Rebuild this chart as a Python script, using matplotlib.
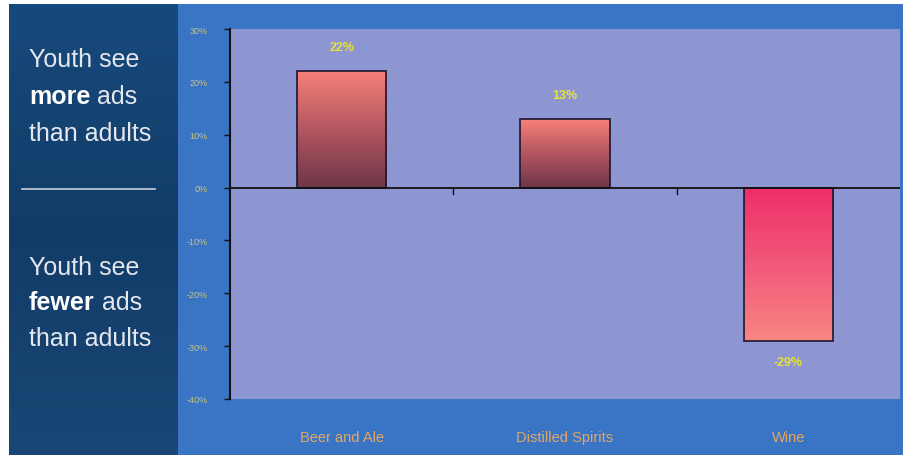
import numpy as np
import matplotlib
matplotlib.use("Agg")
import matplotlib.pyplot as plt
from matplotlib.patches import Rectangle
from matplotlib.colors import LinearSegmentedColormap

plt.rcParams['font.family'] = ['Liberation Sans', 'DejaVu Sans']

categories = ["Beer and Ale", "Distilled Spirits", "Wine"]
values = [22, 13, -29]
value_labels = ["22%", "13%", "-29%"]
yticks = [30, 20, 10, 0, -10, -20, -30, -40]
ytick_labels = ["30%", "20%", "10%", "0%", "-10%", "-20%", "-30%", "-40%"]

W, H = 912, 456
fig = plt.figure(figsize=(W / 100, H / 100), dpi=100)
fig.patch.set_facecolor("white")


def fx(px):
    return px / W


def fy(py):
    return 1 - py / H


# blue chart background
fig.patches.append(Rectangle((fx(178), fy(456)), fx(903 - 178), 451 / H,
                             transform=fig.transFigure, facecolor="#3a74c4",
                             edgecolor="none", zorder=-5))

# dark left panel with gradient
panel = fig.add_axes([fx(9), fy(456), fx(178 - 9), 451 / H])
panel.set_axis_off()
grad = np.linspace(0, 1, 256).reshape(-1, 1)
panel_cmap = LinearSegmentedColormap.from_list("panel", ["#174a7c", "#123c68", "#1a4776"])
panel.imshow(grad, aspect="auto", cmap=panel_cmap, extent=[0, 1, 0, 1])
panel.set_xlim(0, 1)
panel.set_ylim(0, 1)

# plot area
ax = fig.add_axes([fx(230), fy(400), fx(900 - 230), (400 - 30) / H])
ax.set_facecolor("#8e96d2")
x = np.arange(len(categories))

bar_w = 0.4
up_cmap = LinearSegmentedColormap.from_list("up", ["#6e3648", "#b25660", "#f78078"])
down_cmap = LinearSegmentedColormap.from_list("down", ["#f98682", "#f2587a", "#ee2e68"])
bars = ax.bar(x, values, width=bar_w, color="none", edgecolor="#1a1530",
              linewidth=1.2, zorder=3)
for b, v in zip(bars, values):
    x0 = b.get_x()
    x1 = x0 + b.get_width()
    cmap = up_cmap if v > 0 else down_cmap
    ax.imshow(grad, aspect="auto", cmap=cmap, origin="lower",
              extent=[x0, x1, min(0, v), max(0, v)], zorder=2)
ax.set_xlim(-0.5, len(categories) - 0.5)
ax.set_ylim(-40, 30)

for xi, v, lab in zip(x, values, value_labels):
    off = 4.6 if v > 0 else -4
    ax.text(xi, v + off, lab, ha="center", va="center", fontsize=9,
            color="#e6e23c", fontweight="bold")

ax.axhline(0, color="#111111", linewidth=1.3, zorder=4)
for b in [0.5, 1.5]:
    ax.plot([b, b], [0, -1.2], color="#111111", linewidth=1, zorder=4)

ax.set_yticks(yticks)
ax.set_yticklabels(ytick_labels, fontsize=6.5, color="#c9c480")
ax.set_xticks(x)
ax.set_xticklabels(categories, fontsize=10.5, color="#e3a860")
ax.tick_params(axis="x", length=0, pad=22)
ax.tick_params(axis="y", length=4, width=1, color="#111111", pad=12)
for s in ["top", "right", "bottom"]:
    ax.spines[s].set_visible(False)
ax.spines["left"].set_color("#111111")
ax.spines["left"].set_linewidth(1.5)

# left panel text
fig.canvas.draw()
renderer = fig.canvas.get_renderer()
fs = 18
txt_color = "#e4e8ee"


def plain_line(px, py, s):
    fig.text(fx(px), fy(py), s, fontsize=fs, color=txt_color, va="baseline")


def mixed_line(px, py, bold, rest):
    t = fig.text(fx(px), fy(py), bold, fontsize=fs, color="white",
                 fontweight="bold", va="baseline", ha="left")
    bb = t.get_window_extent(renderer)
    fig.text(bb.x1 / W, fy(py), rest, fontsize=fs, color=txt_color,
             va="baseline", ha="left")


plain_line(29, 67, "Youth see")
mixed_line(29, 104, "more", " ads")
plain_line(29, 141, "than adults")

fig.lines.append(plt.Line2D([fx(22), fx(155)], [fy(190), fy(190)],
                            transform=fig.transFigure, color="#c8d0dc", linewidth=1.2))

plain_line(29, 275, "Youth see")
mixed_line(29, 310, "fewer", " ads")
plain_line(29, 346, "than adults")

fig.savefig("out.png", dpi=100)
